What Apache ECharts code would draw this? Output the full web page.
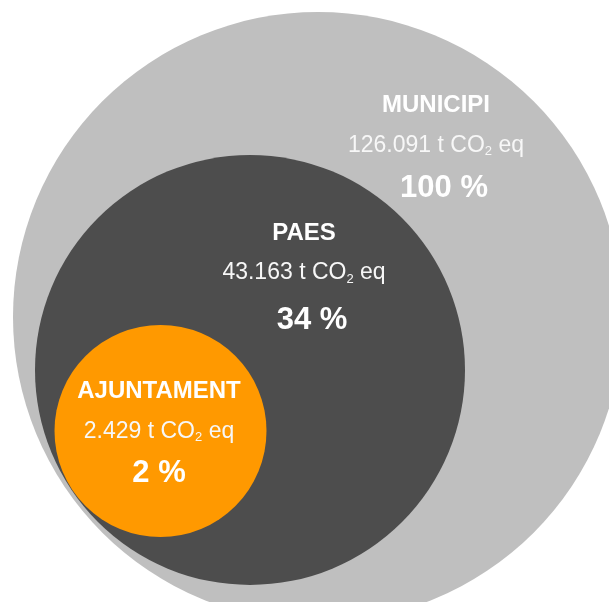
<!DOCTYPE html>
<html>
<head>
<meta charset="utf-8">
<script src="https://cdn.jsdelivr.net/npm/echarts@6/dist/echarts.min.js"></script>
<style>
html, body { margin: 0; padding: 0; background: #fff; }
#chart { width: 609px; height: 602px; }
</style>
</head>
<body>
<div id="chart"></div>
<script>
(function () {
// dades
var names = ['MUNICIPI', 'PAES', 'AJUNTAMENT'];
var emissions = [126091, 43163, 2429]; // t CO2 eq
var shares = [100, 34, 2];

// disposició dels cercles (unitats de l'eix = px)
var layout = [
  { cx: 318, cy: 317, r: 305, lx: 436, ly: 148.5, pGap: 46, pPad: 16, color: '#bfbfbf' },
  { cx: 250, cy: 370, r: 215, lx: 304, ly: 280, pGap: 54, pPad: 16, color: '#4d4d4d' },
  { cx: 160.5, cy: 431, r: 106, lx: 159, ly: 433.5, pGap: 44, pPad: 0, color: '#ff9900' }
];

var font = 'Liberation Sans, Arial, sans-serif';

function fmt(n) {
  return String(n).replace(/\B(?=(\d{3})+(?!\d))/g, '.');
}

var myChart = echarts.init(document.getElementById('chart'));

var seriesData = layout.map(function (c, i) {
  return [c.cx, c.cy, c.r, c.lx, c.ly, i];
});

var option = {
  animation: false,
  grid: { left: 0, right: 0, top: 0, bottom: 0 },
  xAxis: { type: 'value', min: 0, max: 609, show: false },
  yAxis: { type: 'value', min: 0, max: 602, inverse: true, show: false },
  series: [{
    type: 'custom',
    clip: false,
    data: seriesData,
    renderItem: function (params, api) {
      var i = api.value(5);
      var c = layout[i];
      var center = api.coord([api.value(0), api.value(1)]);
      var r = api.size([api.value(2), api.value(2)])[0];
      var lab = api.coord([api.value(3), api.value(4)]);
      var text = '{t|' + names[i] + '}\n' +
        '{v|' + fmt(emissions[i]) + ' t CO}{s|2}{v| eq}\n' +
        '{p|' + shares[i] + ' %}';
      return {
        type: 'group',
        children: [{
          type: 'circle',
          shape: { cx: center[0], cy: center[1], r: r },
          style: { fill: c.color }
        }, {
          type: 'text',
          style: {
            x: lab[0],
            y: lab[1],
            text: text,
            align: 'center',
            verticalAlign: 'middle',
            fill: '#ffffff',
            fontFamily: font,
            rich: {
              t: { fontSize: 24, fontWeight: 'bold', lineHeight: 40, fill: '#ffffff', fontFamily: font },
              v: { fontSize: 23, lineHeight: 40, fill: '#f7f7f7', fontFamily: font },
              s: { fontSize: 13, lineHeight: 20, padding: [12, 0, 0, 0], fill: '#f7f7f7', fontFamily: font },
              p: { fontSize: 31, fontWeight: 'bold', lineHeight: c.pGap, padding: [0, 0, 0, c.pPad], fill: '#ffffff', fontFamily: font }
            }
          }
        }]
      };
    }
  }]
};

myChart.setOption(option);

window.addEventListener('resize', function () {
  myChart.resize();
});
})();
</script>
</body>
</html>
